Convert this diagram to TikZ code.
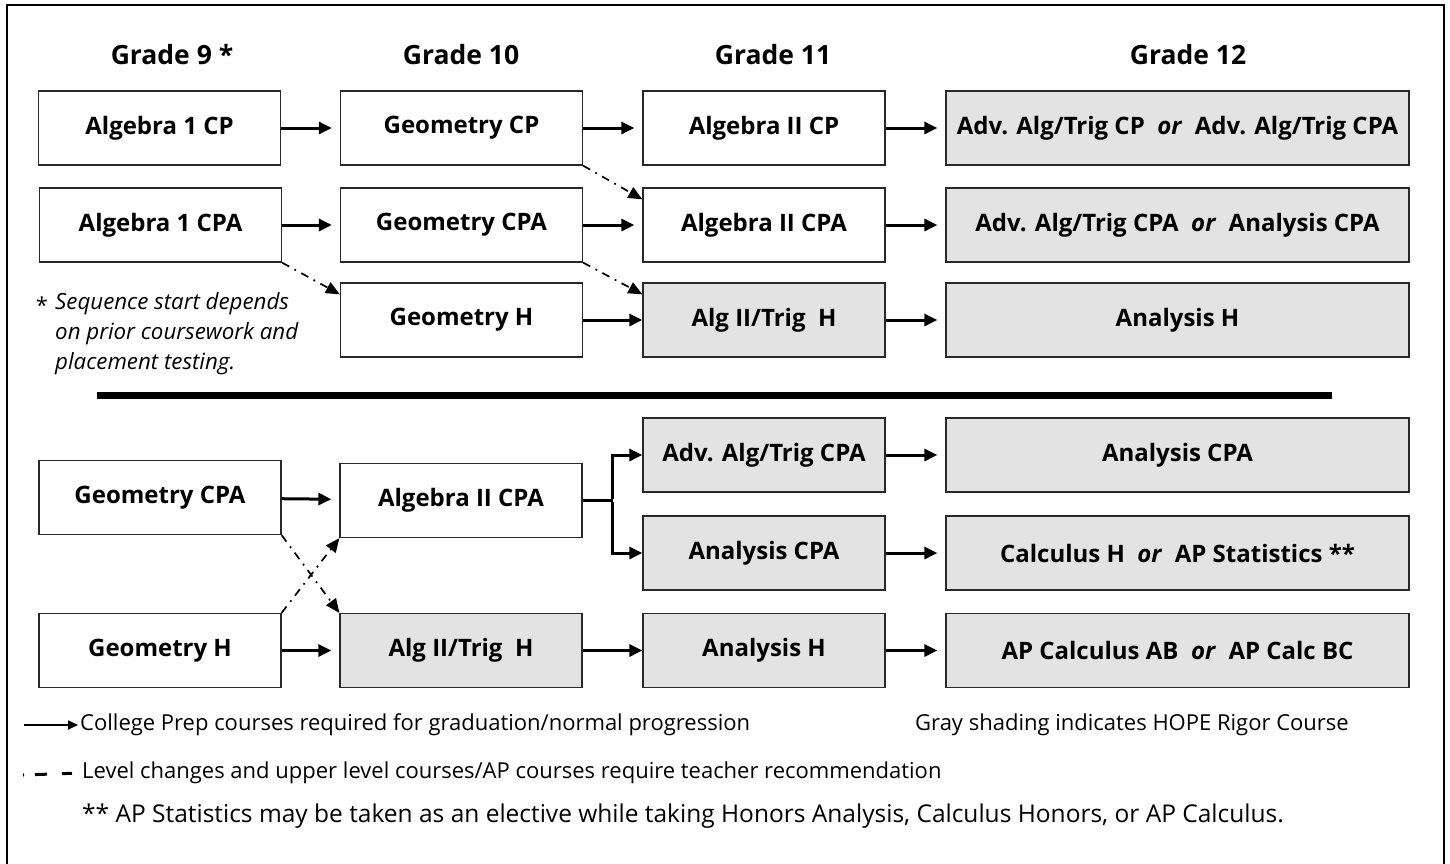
\documentclass[tikz,border=0pt]{standalone}
\usepackage{fontspec}
\setmainfont{Open Sans}
\usepackage{tikz}
\usetikzlibrary{arrows.meta}
\definecolor{hopegray}{RGB}{227,227,227}
\definecolor{boxline}{RGB}{40,40,40}

\begin{document}
\begin{tikzpicture}[x=1pt, y=-1pt,
   course/.style = {shape = rectangle, draw = boxline, line width = 1.3pt, minimum width = 242pt, minimum height = 74pt, inner sep = 0pt, font = \bfseries\fontsize{24}{28}\selectfont},
   hope/.style = {course, fill = hopegray},
   wide/.style = {minimum width = 463pt},
   grade/.style = {font = \bfseries\fontsize{26.5}{32}\selectfont},
   legend/.style = {anchor = west, inner sep = 2pt, font = \fontsize{22}{26}\selectfont},
   flow/.style = {-{Triangle[length = 13pt, width = 12pt]}, line width = 3pt, shorten > = 8pt},
   jump/.style = {-{Triangle[length = 14pt, width = 12pt]}, line width = 1.7pt, dash pattern = on 8pt off 6pt on 1.8pt off 6pt}]
   \useasboundingbox (0,0) rectangle (1450,863);
   \draw [line width = 1.6pt] (7,880) -- (7,5) -- (1444,5) -- (1444,880);

   % grade headings
   \node(g9) at (172,55) [grade] {Grade 9 *};
   \node(g10) at (461,55) [grade] {Grade 10};
   \node(g11) at (773,55) [grade] {Grade 11};
   \node(g12) at (1188,55) [grade] {Grade 12};

   % upper chart
   \node(alga) at (159.5,128) [course] {Algebra 1 CP};
   \node(algb) at (160.5,225) [course] {Algebra 1 CPA};
   \node(geoa) at (461.5,128) [course] {Geometry CP};
   \node(geob) at (461.5,225) [course] {Geometry CPA};
   \node(geoh) at (461.5,320) [course] {Geometry H};
   \node(algiia) at (764,128) [course] {Algebra II CP};
   \node(algiib) at (764,225) [course] {Algebra II CPA};
   \node(trigh) at (764,320) [hope] {Alg II/Trig~~H};
   \node(fina) at (1177.5,128) [hope, wide] {Adv. Alg/Trig CP~~\textit{or}~~Adv. Alg/Trig CPA};
   \node(finb) at (1177.5,225) [hope, wide] {Adv. Alg/Trig CPA~~\textit{or}~~Analysis CPA};
   \node(finh) at (1177.5,320) [hope, wide] {Analysis H};
   \node(star) at (42,305) [font = \fontsize{22}{26}\selectfont] {*};
   \node(note) at (55,292) [anchor = north west, align = left, inner sep = 0pt, font = \itshape\fontsize{22.3}{30}\selectfont] {Sequence start depends\\on prior coursework and\\placement testing.};
   \draw [flow] (alga) to (geoa) ;
   \draw [flow] (algb) to (geob) ;
   \draw [flow] (geoa) to (algiia) ;
   \draw [flow] (geob) to (algiib) ;
   \draw [flow, shorten > = 0pt] (geoh) to (trigh) ;
   \draw [flow] (algiia) to (fina) ;
   \draw [flow] (algiib) to (finb) ;
   \draw [flow] (trigh) to (finh) ;
   \draw [jump] (algb.south east) to ([yshift = -12pt]geoh.north west) ;
   \draw [jump] (geoa.south east) to ([yshift = -12pt]algiib.north west) ;
   \draw [jump] (geob.south east) to ([yshift = -12pt]trigh.north west) ;

   \draw [line width = 7pt] (97,395.5) -- (1332,395.5);

   % lower chart
   \node(lgeob) at (160,497.5) [course] {Geometry CPA};
   \node(lalgiib) at (461,500.5) [course] {Algebra II CPA};
   \node(lgeoh) at (160,650.5) [course] {Geometry H};
   \node(ltrigh) at (461,650.5) [hope] {Alg II/Trig~~H};
   \node(ladv) at (764,455) [hope] {Adv. Alg/Trig CPA};
   \node(lana) at (764,553) [hope] {Analysis CPA};
   \node(lanh) at (764,650.5) [hope] {Analysis H};
   \node(lfina) at (1177.5,455) [hope, wide] {Analysis CPA};
   \node(lfinb) at (1177.5,553) [hope, wide] {Calculus H~~\textit{or}~~AP Statistics **};
   \node(lfinc) at (1177.5,650.5) [hope, wide] {AP Calculus AB~~\textit{or}~~AP Calc BC};
   \draw [flow] (lgeob) to (lalgiib) ;
   \draw [line width = 3pt] (lalgiib.east) -- ++(30,0) coordinate (fork) ;
   \draw [flow, shorten > = 0pt] ([yshift = 1.5pt]fork) |- (ladv) ;
   \draw [flow, shorten > = 0pt] ([yshift = -1.5pt]fork) |- (lana) ;
   \draw [flow] (lgeoh) to (ltrigh) ;
   \draw [flow, shorten > = 0pt] (ltrigh) to (lanh) ;
   \draw [flow] (ladv) to (lfina) ;
   \draw [flow] (lana) to (lfinb) ;
   \draw [flow] (lanh) to (lfinc) ;
   \draw [jump] (lgeob.south east) to (ltrigh.north west) ;
   \draw [jump] (lgeoh.north east) to (lalgiib.south west) ;

   % legend
   \node(keyflow) at (78,725) [legend] {College Prep courses required for graduation/normal progression};
   \node(keygray) at (913,725) [legend] {Gray shading indicates HOPE Rigor Course};
   \node(keyjump) at (80,773) [legend] {Level changes and upper level courses/AP courses require teacher recommendation};
   \node(keystat) at (80,816) [legend, font = \fontsize{24.5}{28}\selectfont] {** AP Statistics may be taken as an elective while taking Honors Analysis, Calculus Honors, or AP Calculus.};
   \coordinate(flowend) at (24,725);
   \coordinate(jumpend) at (23,775);
   \draw [-{Triangle[length = 10pt, width = 9pt]}, line width = 1.8pt] (flowend) to (keyflow.west) ;
   \draw [line width = 3pt, dash pattern = on 1pt off 11pt on 12pt off 15pt on 10pt off 20pt] (jumpend) to (keyjump.west) ;
\end{tikzpicture}
\end{document}
